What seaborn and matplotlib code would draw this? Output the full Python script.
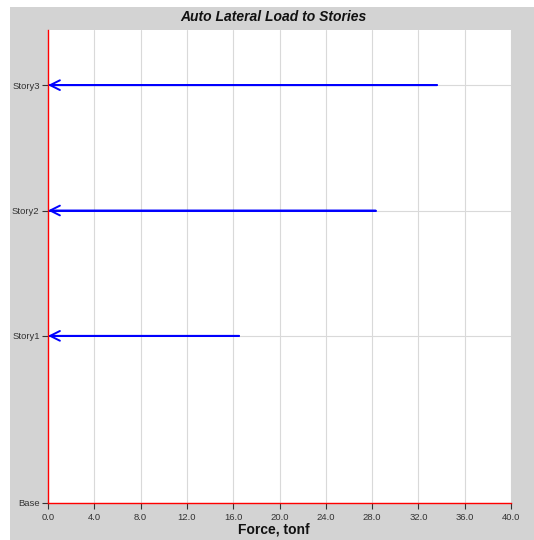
import matplotlib
matplotlib.use("Agg")
import matplotlib.pyplot as plt
import seaborn as sns
import pandas as pd
from matplotlib.patches import Rectangle

# story data
stories = ['Base', 'Story1', 'Story2', 'Story3']
elevations = [0.0, 4.0, 7.0, 10.0]
loaded_stories = ['Story1', 'Story2', 'Story3']
loaded_elev = [4.0, 7.0, 10.0]
forces = [16.5, 28.3, 33.6]
x_ticks = [0, 4, 8, 12, 16, 20, 24, 28, 32, 36, 40]

# long dataframe: each load is a line from 0 to its force
rows = []
for name, elev, f in zip(loaded_stories, loaded_elev, forces):
    rows.append({'story': name, 'force': 0.0, 'elev': elev})
    rows.append({'story': name, 'force': f, 'elev': elev})
df = pd.DataFrame(rows)

sns.set_style('white')
plt.rcParams['font.family'] = ['Liberation Sans', 'DejaVu Sans']

fig = plt.figure(figsize=(5.34, 5.4), dpi=100, facecolor='white')
fig.patches.append(Rectangle((10 / 534, 0), 1, (540 - 7) / 540, transform=fig.transFigure,
                             facecolor='#d3d3d3', edgecolor='none', zorder=-10))
ax = fig.add_axes([48 / 534, 37 / 540, (511 - 48) / 534, (503 - 30) / 540])
ax.set_facecolor('white')

sns.lineplot(data=df, x='force', y='elev', units='story', estimator=None, sort=False,
             color='blue', linewidth=1.4, ax=ax, zorder=3)
for elev, f in zip(loaded_elev, forces):
    ax.annotate('', xy=(0, elev), xytext=(f, elev),
                arrowprops=dict(arrowstyle='->,head_length=0.7,head_width=0.35',
                                color='blue', lw=1.4, shrinkA=0, shrinkB=0),
                zorder=4, annotation_clip=False)

ax.set_xlim(0, 40)
ax.set_ylim(0, 11.32)
ax.set_xticks(x_ticks)
ax.set_xticklabels([f'{v:.1f}' for v in x_ticks])
ax.set_yticks(elevations)
ax.set_yticklabels(stories)
ax.grid(True, color='#d9d9d9', linewidth=0.8)
ax.set_axisbelow(True)
ax.tick_params(axis='both', labelsize=6.8, labelcolor='#333333', length=4, width=0.8,
               color='#333333', direction='out', pad=2, bottom=True, left=True)
ax.tick_params(axis='x', pad=3)
for side in ['top', 'right']:
    ax.spines[side].set_visible(False)
for side in ['left', 'bottom']:
    ax.spines[side].set_color('red')
    ax.spines[side].set_linewidth(1.0)
    ax.spines[side].set_zorder(5)
ax.set_xlabel('')
ax.set_ylabel('')

fig.text(273 / 534, 1 - 17 / 540, 'Auto Lateral Load to Stories', ha='center', va='center',
         fontsize=10, fontweight='bold', fontstyle='italic', color='#111111')
fig.text(274 / 534, 1 - 530 / 540, 'Force, tonf', ha='center', va='center',
         fontsize=10, fontweight='bold', color='#111111')

fig.savefig('out.png', dpi=100, facecolor=fig.get_facecolor())
